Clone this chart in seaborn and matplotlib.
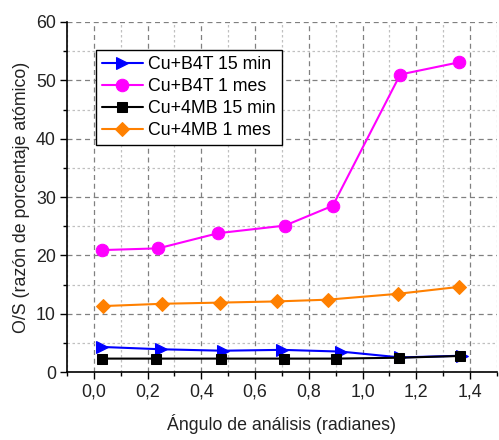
import matplotlib
matplotlib.use("Agg")
import matplotlib.pyplot as plt
import seaborn as sns
import pandas as pd
from matplotlib.ticker import MultipleLocator, FuncFormatter

# Analysis angle (radians) and O/S ratio for each sample
x_b4t_15min = [0.03, 0.25, 0.48, 0.70, 0.92, 1.14, 1.37]
y_b4t_15min = [4.3, 3.9, 3.65, 3.8, 3.5, 2.5, 2.8]

x_b4t_1mes = [0.03, 0.24, 0.463, 0.711, 0.889, 1.14, 1.36]
y_b4t_1mes = [20.9, 21.2, 23.8, 25.1, 28.5, 51.0, 53.1]

x_4mb_15min = [0.03, 0.23, 0.473, 0.707, 0.902, 1.136, 1.363]
y_4mb_15min = [2.3, 2.3, 2.3, 2.3, 2.3, 2.45, 2.75]

x_4mb_1mes = [0.033, 0.255, 0.47, 0.68, 0.87, 1.13, 1.36]
y_4mb_1mes = [11.3, 11.7, 11.9, 12.1, 12.4, 13.4, 14.6]

labels = ["Cu+B4T 15 min", "Cu+B4T 1 mes", "Cu+4MB 15 min", "Cu+4MB 1 mes"]
colors = ["#0000FF", "#FF00FF", "#000000", "#FF8000"]
markers = [">", "o", "s", "D"]
msizes = [9, 9, 7.5, 7.5]

sns.set_theme(style="white")
plt.rcParams["font.family"] = ["Liberation Sans", "DejaVu Sans"]

FS = 12.8

fig = plt.figure(figsize=(4.99, 4.40), dpi=100)
ax = fig.add_axes([0.134, 0.1545, 0.862, 0.7955])

series = [
    (x_b4t_15min, y_b4t_15min),
    (x_b4t_1mes, y_b4t_1mes),
    (x_4mb_15min, y_4mb_15min),
    (x_4mb_1mes, y_4mb_1mes),
]

for (xs, ys), lab, col, mk, ms in zip(series, labels, colors, markers, msizes):
    df = pd.DataFrame({"x": xs, "y": ys})
    sns.lineplot(data=df, x="x", y="y", ax=ax, color=col, marker=mk,
                 markersize=ms, markeredgecolor=col, linewidth=1.5,
                 label=lab, sort=False, zorder=3)

ax.set_xlim(-0.1, 1.5)
ax.set_ylim(0, 60)
ax.xaxis.set_major_locator(MultipleLocator(0.2))
ax.xaxis.set_minor_locator(MultipleLocator(0.1))
ax.yaxis.set_major_locator(MultipleLocator(10))
ax.yaxis.set_minor_locator(MultipleLocator(5))
ax.xaxis.set_major_formatter(FuncFormatter(lambda v, p: f"{v:.1f}".replace(".", ",")))

ax.grid(True, which="major", color="#808080", linestyle=(0, (4, 3)), linewidth=0.9, zorder=0)
ax.grid(True, which="minor", color="#c0c0c0", linestyle=(0, (2, 2)), linewidth=0.9, zorder=0)
ax.set_axisbelow(True)
# no horizontal gridline along the top edge
ax.get_ygridlines()[-1].set_visible(False)

for side in ["top", "right"]:
    ax.spines[side].set_visible(False)
for side in ["left", "bottom"]:
    ax.spines[side].set_color("black")
    ax.spines[side].set_linewidth(1.2)

ax.tick_params(axis="both", which="major", direction="out", length=5, width=1,
               color="black", labelsize=FS, labelcolor="#222222", left=True, bottom=True, pad=3)
ax.tick_params(axis="both", which="minor", direction="out", length=3, width=1,
               color="black", left=True, bottom=True)

ax.set_xlabel("Ángulo de análisis (radianes)", fontsize=FS, color="#222222", labelpad=10)
ax.set_ylabel("O/S (razón de porcentaje atómico)", fontsize=FS, color="#222222", labelpad=4)

leg = ax.legend(loc="upper left", bbox_to_anchor=(0.067, 0.92), borderaxespad=0,
                fontsize=FS, frameon=True, fancybox=False, edgecolor="black",
                framealpha=1, handlelength=2.3, borderpad=0.35, labelspacing=0.28,
                handletextpad=0.3)
for txt in leg.get_texts():
    txt.set_color("black")
leg.get_frame().set_linewidth(1.0)

fig.savefig("out.png", dpi=100)
